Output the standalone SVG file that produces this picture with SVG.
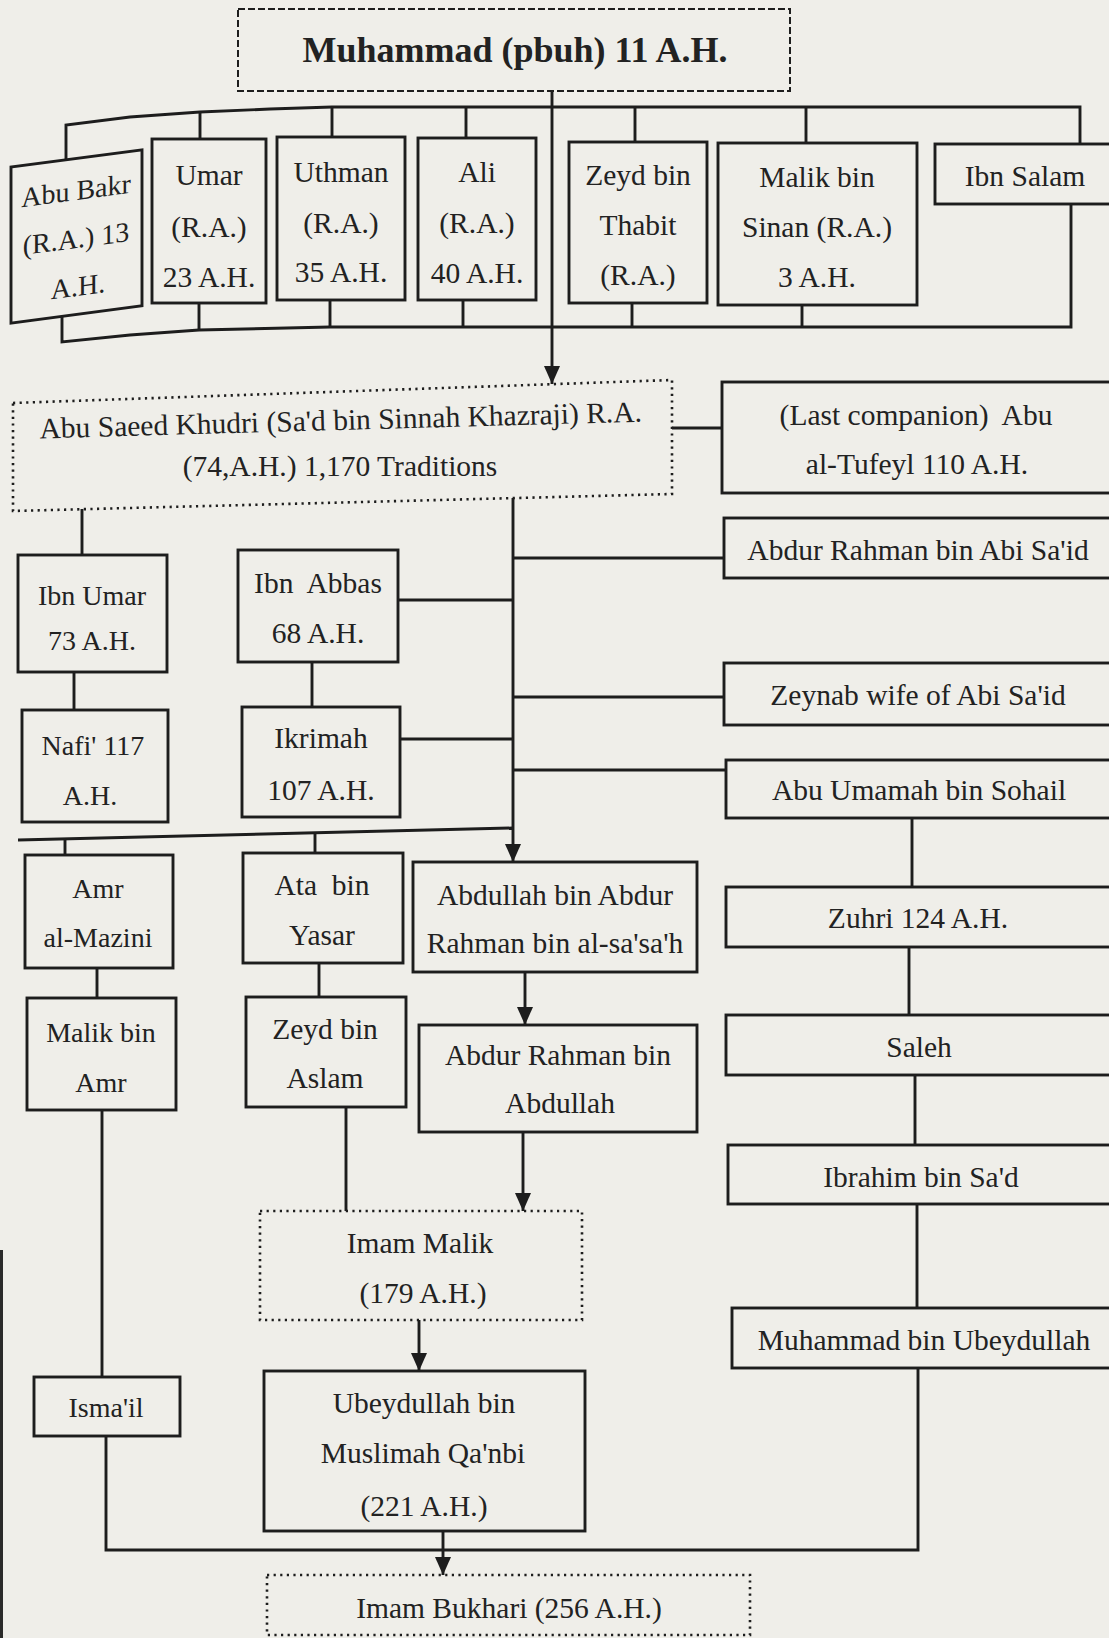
<svg xmlns="http://www.w3.org/2000/svg" width="1109" height="1638" viewBox="0 0 1109 1638">
  <defs>
    <style>
      .bg { fill: #efeee9; }
      .box { fill: none; stroke: #1d1d1d; stroke-width: 2.9; }
      .dash { stroke-width: 2; stroke-dasharray: 7 3; }
      .dot { stroke-width: 2.6; stroke-dasharray: 2.2 4.4; }
      .c { fill: none; stroke: #1d1d1d; stroke-width: 2.9; }
      .t { font-family: "Liberation Serif", "Times New Roman", serif; font-size: 29.5px; fill: #222; text-anchor: middle; }
      .s { font-size: 28px; }
      .title { font-size: 36px; font-weight: bold; }
    </style>
    <marker id="arrow" viewBox="0 0 18 16" refX="18" refY="8" markerWidth="18" markerHeight="16" orient="auto" markerUnits="userSpaceOnUse">
      <path d="M0,0 L18,8 L0,16 z" fill="#1d1d1d"/>
    </marker>
  </defs>

  <rect class="bg" x="0" y="0" width="1109" height="1638"/>
  <!-- page edge -->
  <rect x="0" y="1250" width="3" height="388" fill="#2a2a2a"/>

  <!-- connectors -->
  <g id="connectors">
    <!-- from the Prophet down to Abu Saeed -->
    <path class="c" d="M552,91 V384" marker-end="url(#arrow)"/>
    <!-- upper bus of the companions row -->
    <polyline class="c" points="66,160 66,125 130,117 200,112 270,109 332,107 1080,107 1080,144"/>
    <path class="c" d="M200,112 V139 M332,107 V137 M466,107 V138 M635,107 V142 M806,107 V143"/>
    <!-- lower bus of the companions row -->
    <polyline class="c" points="62,316 62,342 130,335 199,330 330,327 1071,327 1071,204"/>
    <path class="c" d="M199,303 V330 M330,300 V327 M463,300 V327 M632,303 V327 M802,305 V327"/>
    <!-- Abu Saeed to the last companion -->
    <path class="c" d="M672,428 H722"/>
    <!-- left branch -->
    <path class="c" d="M82,509 V555 M74,672 V710 M312,662 V707"/>
    <!-- central trunk -->
    <path class="c" d="M513,498 V862" marker-end="url(#arrow)"/>
    <path class="c" d="M398,600 H513 M400,739 H513"/>
    <path class="c" d="M513,558 H724 M513,697 H724 M513,770 H726"/>
    <!-- second bus -->
    <path class="c" d="M18,840 L513,828"/>
    <path class="c" d="M65,839 V855 M315,833 V853"/>
    <path class="c" d="M97,968 V998 M102,1110 V1377 M319,963 V997 M346,1107 V1211"/>
    <path class="c" d="M525,972 V1025" marker-end="url(#arrow)"/>
    <path class="c" d="M523,1132 V1211" marker-end="url(#arrow)"/>
    <path class="c" d="M419,1320 V1371" marker-end="url(#arrow)"/>
    <!-- right column -->
    <path class="c" d="M912,818 V887 M909,947 V1015 M915,1075 V1145 M917,1204 V1308"/>
    <!-- bottom bus into Bukhari -->
    <path class="c" d="M106,1436 V1550 H918 V1368"/>
    <path class="c" d="M443,1531 V1575" marker-end="url(#arrow)"/>
  </g>

  <!-- nodes -->
  <g id="muhammad">
    <rect class="box dash" x="238" y="9" width="552" height="82"/>
    <text class="t title" x="515" y="62">Muhammad (pbuh) 11 A.H.</text>
  </g>

  <g id="abu-bakr" transform="skewY(-7.5)">
    <rect class="box" x="11" y="168.5" width="131" height="156"/>
    <text class="t s" x="76" y="210">Abu Bakr</text>
    <text class="t s" x="76" y="258">(R.A.) 13</text>
    <text class="t s" x="78" y="306">A.H.</text>
  </g>

  <g id="umar">
    <rect class="box" x="152" y="139" width="114" height="164"/>
    <text class="t" x="209" y="185">Umar</text>
    <text class="t" x="209" y="237">(R.A.)</text>
    <text class="t" x="209" y="287">23 A.H.</text>
  </g>

  <g id="uthman">
    <rect class="box" x="277" y="137" width="128" height="163"/>
    <text class="t" x="341" y="182">Uthman</text>
    <text class="t" x="341" y="233">(R.A.)</text>
    <text class="t" x="341" y="282">35 A.H.</text>
  </g>

  <g id="ali">
    <rect class="box" x="418" y="138" width="118" height="162"/>
    <text class="t" x="477" y="182">Ali</text>
    <text class="t" x="477" y="233">(R.A.)</text>
    <text class="t" x="477" y="283">40 A.H.</text>
  </g>

  <g id="zeyd-bin-thabit">
    <rect class="box" x="569" y="142" width="138" height="161"/>
    <text class="t" x="638" y="185">Zeyd bin</text>
    <text class="t" x="638" y="235">Thabit</text>
    <text class="t" x="638" y="285">(R.A.)</text>
  </g>

  <g id="malik-bin-sinan">
    <rect class="box" x="718" y="143" width="199" height="162"/>
    <text class="t" x="817" y="187">Malik bin</text>
    <text class="t" x="817" y="237">Sinan (R.A.)</text>
    <text class="t" x="817" y="287">3 A.H.</text>
  </g>

  <g id="ibn-salam">
    <rect class="box" x="935" y="144" width="200" height="60"/>
    <text class="t" x="1025" y="186">Ibn Salam</text>
  </g>

  <g id="abu-saeed">
    <path class="box dot" d="M13,403 L672,380 L672,494 L13,511 Z"/>
    <text class="t" x="341" y="430" transform="rotate(-1.6 341 430)">Abu Saeed Khudri (Sa'd bin Sinnah Khazraji) R.A.</text>
    <text class="t" x="340" y="476">(74,A.H.) 1,170 Traditions</text>
  </g>

  <g id="abu-tufeyl">
    <rect class="box" x="722" y="382" width="420" height="111"/>
    <text class="t" x="916" y="425" xml:space="preserve">(Last companion)  Abu</text>
    <text class="t" x="917" y="474">al-Tufeyl 110 A.H.</text>
  </g>

  <g id="abdur-rahman-bin-abi-said">
    <rect class="box" x="724" y="518" width="420" height="60"/>
    <text class="t" x="918" y="560">Abdur Rahman bin Abi Sa'id</text>
  </g>

  <g id="zeynab">
    <rect class="box" x="724" y="663" width="420" height="62"/>
    <text class="t" x="918" y="705">Zeynab wife of Abi Sa'id</text>
  </g>

  <g id="abu-umamah">
    <rect class="box" x="726" y="760" width="420" height="58"/>
    <text class="t" x="919" y="800">Abu Umamah bin Sohail</text>
  </g>

  <g id="ibn-umar">
    <rect class="box" x="18" y="555" width="149" height="117"/>
    <text class="t s" x="92" y="605">Ibn Umar</text>
    <text class="t s" x="92" y="650">73 A.H.</text>
  </g>

  <g id="nafi">
    <rect class="box" x="22" y="710" width="146" height="112"/>
    <text class="t s" x="93" y="755">Nafi' 117</text>
    <text class="t s" x="90" y="805">A.H.</text>
  </g>

  <g id="ibn-abbas">
    <rect class="box" x="238" y="550" width="160" height="112"/>
    <text class="t" x="318" y="593" xml:space="preserve">Ibn  Abbas</text>
    <text class="t" x="318" y="643">68 A.H.</text>
  </g>

  <g id="ikrimah">
    <rect class="box" x="242" y="707" width="158" height="110"/>
    <text class="t" x="321" y="748">Ikrimah</text>
    <text class="t" x="321" y="800">107 A.H.</text>
  </g>

  <g id="amr-al-mazini">
    <rect class="box" x="25" y="855" width="148" height="113"/>
    <text class="t s" x="98" y="898">Amr</text>
    <text class="t s" x="98" y="947">al-Mazini</text>
  </g>

  <g id="malik-bin-amr">
    <rect class="box" x="27" y="998" width="149" height="112"/>
    <text class="t s" x="101" y="1042">Malik bin</text>
    <text class="t s" x="101" y="1092">Amr</text>
  </g>

  <g id="ata-bin-yasar">
    <rect class="box" x="243" y="853" width="160" height="110"/>
    <text class="t" x="322" y="895" xml:space="preserve">Ata  bin</text>
    <text class="t" x="322" y="945">Yasar</text>
  </g>

  <g id="zeyd-bin-aslam">
    <rect class="box" x="246" y="997" width="160" height="110"/>
    <text class="t" x="325" y="1039">Zeyd bin</text>
    <text class="t" x="325" y="1088">Aslam</text>
  </g>

  <g id="abdullah-bin-abdur-rahman">
    <rect class="box" x="413" y="862" width="284" height="110"/>
    <text class="t" x="555" y="905">Abdullah bin Abdur</text>
    <text class="t" x="555" y="953">Rahman bin al-sa'sa'h</text>
  </g>

  <g id="abdur-rahman-bin-abdullah">
    <rect class="box" x="419" y="1025" width="278" height="107"/>
    <text class="t" x="558" y="1065">Abdur Rahman bin</text>
    <text class="t" x="560" y="1113">Abdullah</text>
  </g>

  <g id="imam-malik">
    <rect class="box dot" x="260" y="1211" width="322" height="109"/>
    <text class="t" x="420" y="1253">Imam Malik</text>
    <text class="t" x="423" y="1303">(179 A.H.)</text>
  </g>

  <g id="ismail">
    <rect class="box" x="34" y="1377" width="146" height="59"/>
    <text class="t s" x="106" y="1417">Isma'il</text>
  </g>

  <g id="ubeydullah-qanbi">
    <rect class="box" x="264" y="1371" width="321" height="160"/>
    <text class="t" x="424" y="1413">Ubeydullah bin</text>
    <text class="t" x="423" y="1463">Muslimah Qa'nbi</text>
    <text class="t" x="424" y="1516">(221 A.H.)</text>
  </g>

  <g id="zuhri">
    <rect class="box" x="726" y="887" width="420" height="60"/>
    <text class="t" x="918" y="928">Zuhri 124 A.H.</text>
  </g>

  <g id="saleh">
    <rect class="box" x="726" y="1015" width="420" height="60"/>
    <text class="t" x="919" y="1057">Saleh</text>
  </g>

  <g id="ibrahim-bin-sad">
    <rect class="box" x="728" y="1145" width="420" height="59"/>
    <text class="t" x="921" y="1187">Ibrahim bin Sa'd</text>
  </g>

  <g id="muhammad-bin-ubeydullah">
    <rect class="box" x="732" y="1308" width="420" height="60"/>
    <text class="t" x="924" y="1350">Muhammad bin Ubeydullah</text>
  </g>

  <g id="imam-bukhari">
    <rect class="box dot" x="267" y="1575" width="483" height="60"/>
    <text class="t" x="509" y="1618">Imam Bukhari (256 A.H.)</text>
  </g>
</svg>
